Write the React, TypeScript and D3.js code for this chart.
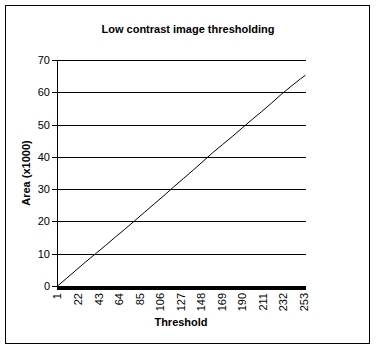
import React from "react";
import * as d3 from "d3";

// threshold categories on the x axis (1..255)
const categories: number[] = d3.range(1, 256);
// every 21st category is labelled
const tickLabels: number[] = [1, 22, 43, 64, 85, 106, 127, 148, 169, 190, 211, 232, 253];
const yTicks: number[] = [0, 10, 20, 30, 40, 50, 60, 70];

const thresholds: number[] = [1, 10, 20, 30, 40, 50, 60, 70, 80, 90, 100, 110, 120, 130, 140, 150, 160, 170, 180, 190, 200, 210, 220, 230, 240, 250, 255];
const areas: number[] = [0, 2.3, 4.9, 7.5, 10.0, 12.5, 15.1, 17.6, 20.2, 22.8, 25.4, 28.0, 30.7, 33.3, 35.9, 38.6, 41.3, 43.8, 46.3, 48.9, 51.5, 54.0, 56.6, 59.3, 61.8, 64.2, 65.3];

const W = 377;
const H = 351;
const plot = { left: 57, right: 306, top: 60, bottom: 286 };
const font = "'Liberation Sans', Arial, sans-serif";

export default function App() {
  const x = d3
    .scaleBand<number>()
    .domain(categories)
    .range([plot.left, plot.right]);
  const cx = (c: number) => (x(c) as number) + x.bandwidth() / 2;

  const y = d3.scaleLinear().domain([0, 70]).range([plot.bottom, plot.top]);

  const line = d3
    .line<number>()
    .x((_, i) => cx(thresholds[i]))
    .y((d) => y(d));

  return (
    <svg
      width={W}
      height={H}
      style={{ position: "absolute", left: 0, top: 0, background: "#fff" }}
    >
      <rect x={5.5} y={5.5} width={364} height={338} fill="#fff" stroke="#000" strokeWidth={1} />

      <text x={188} y={33} textAnchor="middle" fontFamily={font} fontSize={11} fontWeight="bold">
        Low contrast image thresholding
      </text>

      {/* gridlines + y ticks */}
      {yTicks.map((t) => (
        <g key={t}>
          <line
            x1={plot.left - 5}
            x2={plot.right}
            y1={Math.round(y(t)) + 0.5}
            y2={Math.round(y(t)) + 0.5}
            stroke="#000"
            shapeRendering="crispEdges"
          />
          <text x={50} y={y(t) + 4} textAnchor="end" fontFamily={font} fontSize={11}>
            {t}
          </text>
        </g>
      ))}

      {/* y axis */}
      <line x1={plot.left + 0.5} x2={plot.left + 0.5} y1={plot.top} y2={plot.bottom + 1} stroke="#000" shapeRendering="crispEdges" />

      {/* x axis: dense category ticks */}
      {categories.map((c) => (
        <line
          key={c}
          x1={Math.round(x(c) as number) + 0.5}
          x2={Math.round(x(c) as number) + 0.5}
          y1={plot.bottom}
          y2={plot.bottom + 4}
          stroke="#000"
          shapeRendering="crispEdges"
        />
      ))}
      <line x1={plot.left} x2={plot.right} y1={plot.bottom + 0.5} y2={plot.bottom + 0.5} stroke="#000" shapeRendering="crispEdges" />

      {tickLabels.map((c) => (
        <text
          key={c}
          transform={`translate(${cx(c) + 4},293) rotate(-90)`}
          textAnchor="end"
          fontFamily={font}
          fontSize={11}
        >
          {c}
        </text>
      ))}

      <path d={line(areas) || ""} fill="none" stroke="#000" strokeWidth={1} />

      <text x={181} y={326} textAnchor="middle" fontFamily={font} fontSize={11} fontWeight="bold">
        Threshold
      </text>
      <text
        transform={`translate(30,173) rotate(-90)`}
        textAnchor="middle"
        fontFamily={font}
        fontSize={11}
        fontWeight="bold"
      >
        Area (x1000)
      </text>
    </svg>
  );
}
